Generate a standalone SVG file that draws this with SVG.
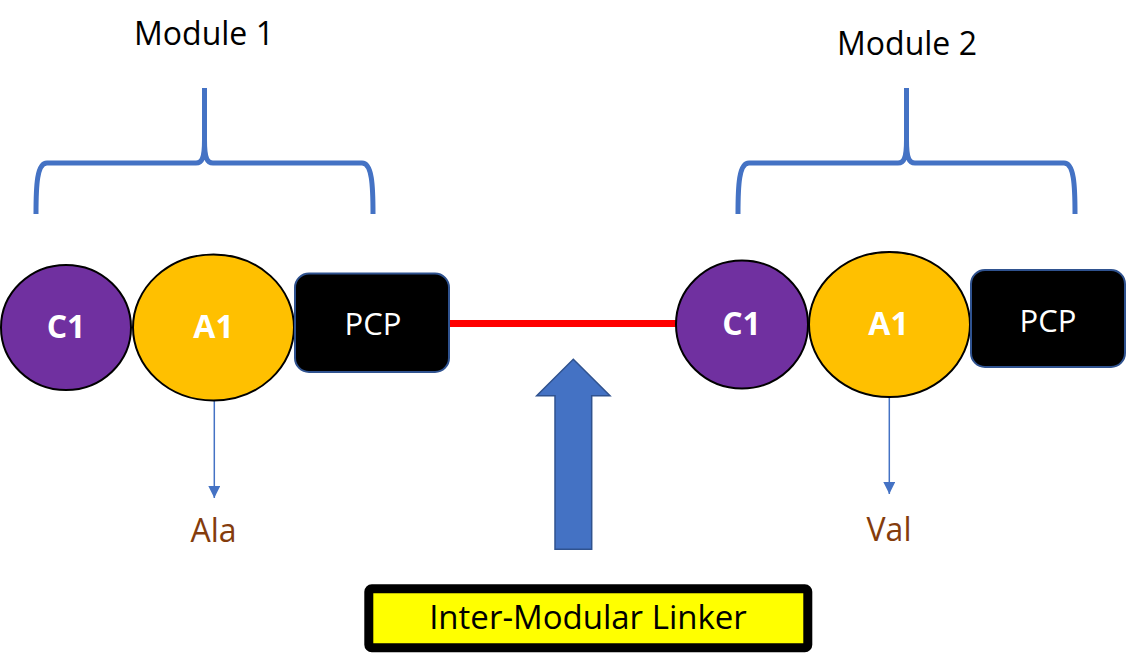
<svg xmlns="http://www.w3.org/2000/svg" width="1126" height="663" viewBox="0 0 1126 663">
<defs>
<style>
.brace{fill:none;stroke:#4472C4;stroke-width:5}
.c1{fill:#7030A0;stroke:#000;stroke-width:2}
.a1{fill:#FFC000;stroke:#000;stroke-width:2}
.pcp{fill:#000;stroke:#2F528F;stroke-width:2}
.lbl{font-family:"Open Sans","Liberation Sans",sans-serif;text-anchor:middle}
.bw{font-weight:bold;fill:#fff;font-size:32px}
.rw{fill:#fff;font-size:31px}
.aa{fill:#843C0C;font-size:32px}
.mod{fill:#000;font-size:32px}
.thin{stroke:#4472C4;stroke-width:1.5;fill:none}
</style>
<marker id="tri" markerWidth="12" markerHeight="12" viewBox="0 0 12 12" refX="12" refY="6" orient="auto" markerUnits="userSpaceOnUse">
<path d="M0,0 L12,6 L0,12 Z" fill="#4472C4"/>
</marker>
<path id="bracePath" d="M36,214 C36,185 37,163 47,163 L196,163 C202,163 204.5,158 204.5,140 L204.5,88 M204.5,140 C204.5,158 207,163 213,163 L362,163 C372,163 373,185 373,214"/>
</defs>
<g id="module1-label"><text class="lbl mod" x="204" y="45">Module 1</text></g>
<g id="module2-label"><text class="lbl mod" x="907" y="55">Module 2</text></g>
<g id="brace1"><use href="#bracePath" class="brace"/></g>
<g id="brace2"><use href="#bracePath" class="brace" transform="translate(702,0)"/></g>
<g id="connectors">
<line x1="449" y1="323.5" x2="677" y2="323.5" stroke="#FF0000" stroke-width="7"/>
<line class="thin" x1="214.3" y1="400" x2="214.3" y2="498" marker-end="url(#tri)"/>
<line class="thin" x1="889.3" y1="396" x2="889.3" y2="494" marker-end="url(#tri)"/>
<path d="M573.3,359.3 L610,395.7 L591.7,395.7 L591.7,549.3 L555,549.3 L555,395.7 L536.7,395.7 Z" fill="#4472C4" stroke="#2F528F" stroke-width="1.5"/>
</g>
<g id="m1-c1"><ellipse class="c1" cx="66" cy="327.5" rx="65" ry="62.5"/><text class="lbl bw" x="66" y="338">C1</text></g>
<g id="m1-a1"><ellipse class="a1" cx="213.5" cy="327.5" rx="80.5" ry="73"/><text class="lbl bw" x="213.5" y="338">A1</text></g>
<g id="m1-pcp"><rect class="pcp" x="295" y="273.5" width="154" height="98.5" rx="14"/><text class="lbl rw" x="373" y="335">PCP</text></g>
<g id="m2-c1"><ellipse class="c1" cx="742" cy="324.5" rx="66" ry="64"/><text class="lbl bw" x="741.5" y="335">C1</text></g>
<g id="m2-a1"><ellipse class="a1" cx="889.5" cy="324.5" rx="80.5" ry="72.5"/><text class="lbl bw" x="888.5" y="335">A1</text></g>
<g id="m2-pcp"><rect class="pcp" x="971" y="270" width="154" height="97" rx="14"/><text class="lbl rw" x="1048" y="332">PCP</text></g>
<g id="ala"><text class="lbl aa" x="213.5" y="542">Ala</text></g>
<g id="val"><text class="lbl aa" x="889" y="541">Val</text></g>
<g id="linker"><rect x="368.8" y="588.8" width="439" height="59" rx="3" fill="#FFFF00" stroke="#000" stroke-width="9"/><text class="lbl" x="588" y="629" font-size="33" fill="#000">Inter-Modular Linker</text></g>
</svg>
